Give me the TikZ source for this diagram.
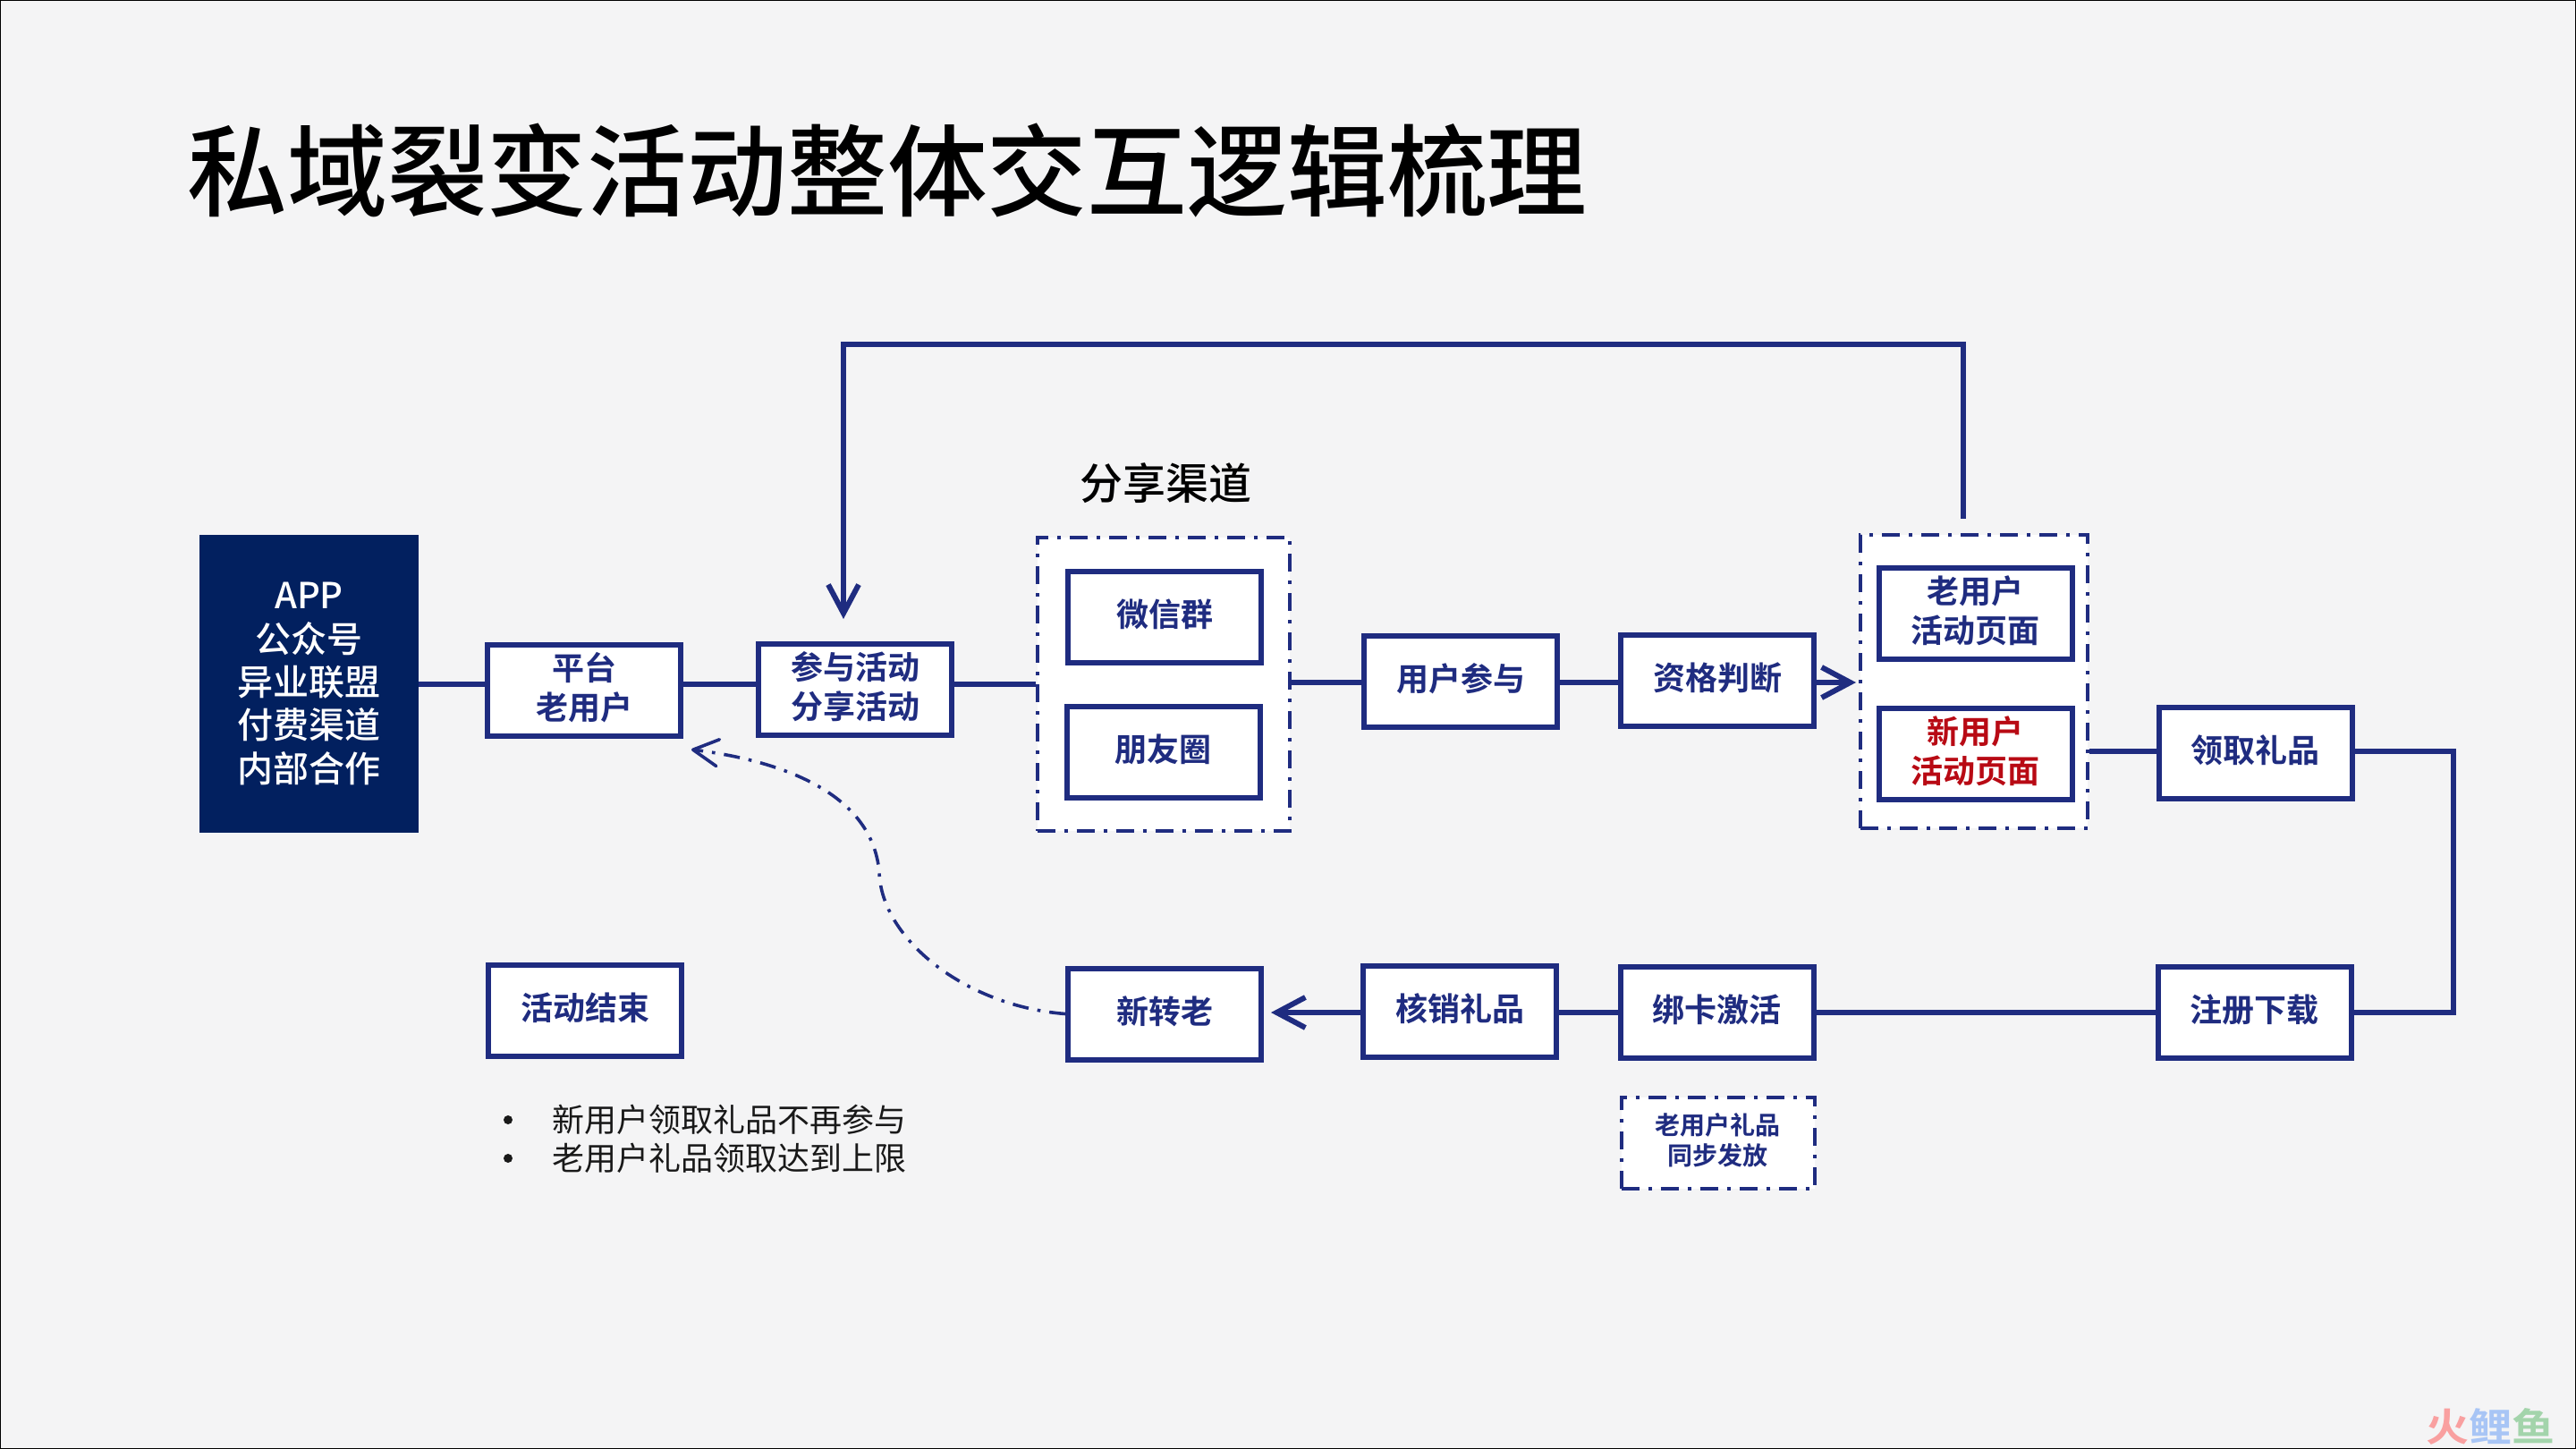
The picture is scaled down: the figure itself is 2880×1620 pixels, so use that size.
\documentclass[tikz,border=0pt]{standalone}
\usepackage{fontspec}
\usetikzlibrary{arrows.meta,calc}
\newfontfamily\cjkr{Noto Sans CJK SC}
\newfontfamily\cjkm{Noto Sans CJK SC Medium}
\newfontfamily\cjkb{Noto Sans CJK SC Bold}
\definecolor{bgc}{HTML}{F4F4F5}
\definecolor{navy}{HTML}{1F2C80}
\definecolor{darkfill}{HTML}{02205F}
\definecolor{redtxt}{HTML}{B80A14}
\newcommand\lowered[2][2pt]{\vbox{\kern#1\hbox{\begin{tabular}{@{}c@{}}#2\end{tabular}}}}
\tikzset{
  box/.style={draw=navy,fill=white,line width=3pt,text=navy,inner sep=0pt,
    minimum width=108pt,minimum height=51pt,font=\cjkb\fontsize{18}{22}\selectfont},
  groupbox/.style={draw=navy,fill=white,line width=2pt,inner sep=0pt,
    dash pattern=on 10pt off 5pt on 2pt off 5pt},
  link/.style={draw=navy,line width=3pt},
  arrowlink/.style={link,-{Straight Barb[length=16pt,width=17pt,line width=3pt]}},
  dashlink/.style={draw=navy,line width=1.8pt,dash pattern=on 9pt off 5pt on 1.8pt off 5pt},
  plaintext/.style={inner sep=0pt,text=black},
}
\begin{document}
\begin{tikzpicture}[x=0.5pt,y=-0.5pt]
\useasboundingbox (0,0) rectangle (2880,1620);
\fill[bgc] (0,0) rectangle (2880,1620);
\draw[black,line width=1pt] (0,0) rectangle (2880,1620);

\node[plaintext,anchor=west,font=\cjkm\fontsize{55.9}{60}\selectfont] (title) at (209,191) {私域裂变活动整体交互逻辑梳理};

\node[fill=darkfill,text=white,inner sep=0pt,minimum width=122.5pt,minimum height=166.5pt,
  font=\cjkm\fontsize{20}{24}\selectfont] (source) at (345.5,764.5) {\lowered[3.5pt]{APP\\公众号\\异业联盟\\付费渠道\\内部合作}};
\node[box] (platform) at (653,771.5) {\lowered{平台\\老用户}};
\node[box] (join) at (956,771) {\lowered{参与活动\\分享活动}};

\node[plaintext,font=\cjkm\fontsize{24}{28}\selectfont] (channeltitle) at (1303,540) {分享渠道};
\node[groupbox,minimum width=141pt,minimum height=164pt] (channels) at (1300.5,765) {};
\node[box] (wechat) at (1302,689.5) {\lowered{微信群}};
\node[box] (moments) at (1300.5,840.5) {\lowered{朋友圈}};

\node[box] (participate) at (1633,761.5) {\lowered{用户参与}};
\node[box] (judge) at (1920,760.5) {\lowered{资格判断}};

\node[groupbox,minimum width=127pt,minimum height=164pt] (pages) at (2207,762) {};
\node[box] (oldpage) at (2208.5,686) {\lowered{老用户\\活动页面}};
\node[box,text=redtxt] (newpage) at (2208.5,842.5) {\lowered{新用户\\活动页面}};

\node[box] (claim) at (2521.5,842) {\lowered{领取礼品}};
\node[box] (register) at (2520.5,1131.5) {\lowered{注册下载}};
\node[box] (bind) at (1919.5,1132) {\lowered{绑卡激活}};
\node[box] (redeem) at (1632,1130.5) {\lowered{核销礼品}};
\node[box] (convert) at (1302,1133.5) {\lowered{新转老}};
\node[box] (ended) at (654,1129.5) {\lowered{活动结束}};

\node[groupbox,minimum width=108pt,minimum height=51pt,text=navy,
  font=\cjkb\fontsize{14}{17}\selectfont] (sync) at (1920.5,1277.5) {\lowered[1pt]{老用户礼品\\同步发放}};

\coordinate (rowA) at (0,765);
\coordinate (rowB) at (0,763);
\coordinate (rowC) at (0,840);
\coordinate (rowD) at (0,1132);
\coordinate (loopStart) at (2195,580);
\coordinate (loopTopR) at (2195,385);
\coordinate (loopTopL) at (943,385);
\coordinate (loopEnd) at (943,692);
\coordinate (rightCol) at (2743,0);

\draw[link] (source.east |- rowA) -- (platform.west |- rowA);
\draw[link] (platform.east |- rowA) -- (join.west |- rowA);
\draw[link] (join.east |- rowA) -- (channels.west |- rowA);
\draw[link] (channels.east |- rowB) -- (participate.west |- rowB);
\draw[link] (participate.east |- rowB) -- (judge.west |- rowB);
\draw[arrowlink] (judge.east |- rowB) -- ($(pages.west |- rowB)+(-3,0)$);
\draw[link] (pages.east |- rowC) -- (claim.west |- rowC);
\draw[link] (claim.east |- rowC) -| (rightCol |- register.east) -- (register.east);
\draw[link] (register.west |- rowD) -- (bind.east |- rowD);
\draw[link] (bind.west |- rowD) -- (redeem.east |- rowD);
\draw[arrowlink] (redeem.west |- rowD) -- ($(convert.east |- rowD)+(8,0)$);
\draw[arrowlink] (loopStart) -- (loopTopR) -- (loopTopL) -- (loopEnd);

\coordinate (curveEnd) at (773,838);
\draw[dashlink,-{Straight Barb[length=14pt,width=15pt,line width=1.8pt,round]}]
  (convert.west) .. controls (1080,1125) and (985,1050) .. (983,975)
  .. controls (975,885) and (870,850) .. (curveEnd);

\node[plaintext,font=\cjkr\fontsize{18}{22}\selectfont,anchor=west,text=black!90] (note1) at (617,1252) {新用户领取礼品不再参与};
\node[plaintext,font=\cjkr\fontsize{18}{22}\selectfont,anchor=west,text=black!90] (note2) at (617,1295) {老用户礼品领取达到上限};
\fill[black!90] (568,1252) circle (5);
\fill[black!90] (568,1295) circle (5);

\node[inner sep=0pt,anchor=east,font=\cjkb\fontsize{24}{26}\selectfont,yscale=0.9,transform shape] (mark) at (2857,1595)
  {\textcolor[HTML]{F9A0A0}{火}\textcolor[HTML]{A8C5F5}{鲤}\textcolor[HTML]{A3D4AB}{鱼}};
\end{tikzpicture}
\end{document}
